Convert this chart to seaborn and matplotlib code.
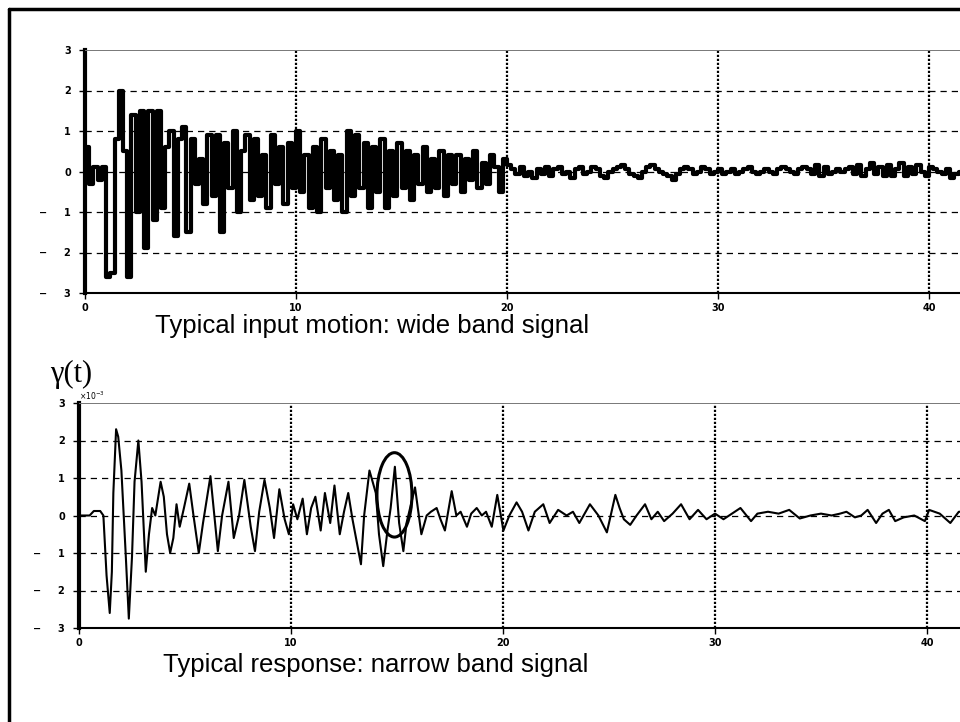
import numpy as np
import pandas as pd
import matplotlib
matplotlib.use("Agg")
import matplotlib.pyplot as plt
import seaborn as sns
from matplotlib.lines import Line2D
from matplotlib.patches import Ellipse

# input motion (wide band), sampled every 0.2 s
dt_input = 0.2
input_motion = [
    0.6, -0.3, 0.1, -0.2, 0.1, -2.6, -2.5, 0.8, 2.0, 0.5,
    -2.6, 1.4, -1.0, 1.5, -1.9, 1.5, -1.2, 1.5, -0.9, 0.6,
    1.0, -1.6, 0.8, 1.1, -1.5, 0.8, -0.3, 0.3, -0.8, 0.9,
    -0.6, 0.9, -1.5, 0.7, -0.4, 1.0, -1.0, 0.5, 0.9, -0.7,
    0.8, -0.6, 0.4, -0.9, 0.9, -0.3, 0.6, -0.8, 0.7, -0.4,
    1.0, -0.5, 0.4, -0.9, 0.6, -1.0, 0.8, -0.4, 0.5, -0.7,
    0.4, -1.0, 1.0, -0.6, 0.9, -0.4, 0.7, -0.9, 0.6, -0.5,
    0.8, -0.9, 0.5, -0.6, 0.7, -0.4, 0.5, -0.7, 0.4, -0.3,
    0.6, -0.5, 0.3, -0.4, 0.5, -0.6, 0.4, -0.3, 0.4, -0.5,
    0.3, -0.2, 0.5, -0.4, 0.2, -0.3, 0.4, 0.1, -0.5, 0.3,
    0.15, 0.05, -0.05, 0.1, -0.1, 0.0, -0.15, 0.05, -0.05, 0.1,
    -0.1, 0.05, 0.1, -0.05, 0.0, -0.15, 0.05, 0.1, -0.05, 0.0,
    0.1, 0.05, -0.1, -0.15, 0.0, 0.05, 0.1, 0.15, 0.05, -0.05,
    -0.1, -0.15, 0.0, 0.1, 0.15, 0.05, 0.0, -0.05, -0.1, -0.2,
    -0.05, 0.05, 0.1, 0.05, -0.05, 0.0, 0.1, 0.05, -0.05, 0.0,
    0.05, -0.05, 0.0, 0.05, -0.05, 0.0, 0.05, 0.1, 0.0, -0.05,
    0.0, 0.05, 0.0, -0.05, 0.05, 0.1, 0.05, 0.0, -0.05, 0.05,
    0.1, 0.05, -0.05, 0.15, -0.1, 0.1, -0.05, 0.0, 0.05, 0.0,
    0.05, 0.1, -0.05, 0.15, -0.1, 0.05, 0.2, -0.05, 0.1, -0.1,
    0.15, -0.1, 0.05, 0.2, -0.1, 0.1, -0.05, 0.15, 0.0, -0.1,
    0.1, 0.05, 0.0, -0.05, 0.05, -0.15, -0.05, 0.0, 0.05, -0.05,
]
t_input = np.arange(len(input_motion)) * dt_input

# response gamma(t), in units of 1e-3
t_resp = [
    0.0, 0.5, 0.7, 1.0, 1.15, 1.3, 1.45, 1.55, 1.62, 1.75, 1.85, 2.0, 2.2, 2.35,
    2.5, 2.62, 2.8, 2.95, 3.15, 3.3, 3.45, 3.6, 3.85, 4.0, 4.15, 4.3, 4.45, 4.6,
    4.75, 4.95, 5.2, 5.4, 5.65, 5.85, 6.2, 6.35, 6.55, 6.75, 7.05, 7.3, 7.55,
    7.8, 8.1, 8.3, 8.5, 8.75, 9.0, 9.2, 9.45, 9.7, 9.9, 10.1, 10.3, 10.55, 10.75,
    10.95, 11.15, 11.4, 11.6, 11.85, 12.05, 12.3, 12.5, 12.7, 12.9, 13.3, 13.45,
    13.7, 14.0, 14.15, 14.35, 14.55, 14.7, 14.9, 15.1, 15.3, 15.45, 15.85, 16.15,
    16.4, 16.6, 16.87, 17.05, 17.26, 17.58, 17.8, 18.0, 18.3, 18.5, 18.76, 19.0,
    19.2, 19.47, 19.73, 20.02, 20.3, 20.64, 20.9, 21.2, 21.5, 21.9, 22.2, 22.6,
    23.0, 23.3, 23.6, 24.1, 24.5, 24.9, 25.3, 25.5, 25.7, 26.0, 26.3, 26.7, 27.0,
    27.3, 27.6, 28.0, 28.4, 28.8, 29.2, 29.6, 30.0, 30.4, 30.8, 31.2, 31.7, 32.0,
    32.5, 33.0, 33.5, 34.0, 34.5, 35.0, 35.5, 35.9, 36.2, 36.6, 36.9, 37.2, 37.6,
    37.9, 38.2, 38.5, 38.9, 39.4, 39.9, 40.1, 40.6, 41.1, 41.5, 42.0,
]
response = [
    0.0, 0.0, 0.12, 0.12, 0.0, -1.6, -2.6, -1.5, 0.6, 2.3, 2.1, 1.2, -1.0, -2.75,
    -1.1, 0.9, 2.0, 0.9, -1.5, -0.5, 0.2, 0.0, 0.9, 0.5, -0.5, -1.0, -0.6, 0.3,
    -0.3, 0.2, 0.85, 0.0, -1.0, -0.2, 1.05, 0.2, -0.95, 0.0, 0.9, -0.6, 0.0,
    0.95, -0.3, -0.95, 0.1, 0.95, 0.2, -0.6, 0.7, -0.1, -0.5, 0.3, -0.1, 0.45, -0.5,
    0.2, 0.5, -0.4, 0.6, -0.2, 0.8, -0.5, 0.1, 0.6, -0.1, -1.3, 0.0,
    1.2, 0.6, -0.5, -1.35, -0.4, 0.2, 1.3, -0.2, -0.95, -0.2, 0.75, -0.5,
    0.0, 0.1, 0.2, -0.1, -0.4, 0.65, 0.0, 0.1, -0.3, 0.05, 0.2, 0.0,
    0.1, -0.3, 0.55, -0.4, 0.0, 0.35, 0.1, -0.4, 0.1, 0.3, -0.2, 0.15,
    0.0, 0.1, -0.2, 0.3, 0.0, -0.45, 0.55, 0.2, -0.1, -0.25, 0.0, 0.3, -0.1,
    0.1, -0.15, 0.05, 0.3, -0.1, 0.15, -0.1, 0.05, -0.1, 0.05, 0.2, -0.15, 0.05,
    0.1, 0.05, 0.15, -0.08, 0.0, 0.05, 0.0, 0.05, 0.1, -0.05, 0.0, 0.15, -0.2,
    0.05, 0.15, -0.15, -0.05, 0.0, -0.15, 0.15, 0.05, -0.2, 0.1, 0.1,
]

# circled peak in the response (centre t, centre value, width, height)
circle_t, circle_v, circle_w, circle_h = 14.88, 0.55, 1.65, 2.25

y_ticks = [-3, -2, -1, 0, 1, 2, 3]
y_ticklabels = ["\u2212     3", "\u2212     2", "\u2212     1", "0", "1", "2", "3"]
x_ticks = [0, 10, 20, 30, 40]
x_ticklabels = ["0", "10", "20", "30", "40"]

sns.set_style("white")
W, H = 960, 722
fig = plt.figure(figsize=(W / 100, H / 100), dpi=100)

ax1 = fig.add_axes([85 / W, 1 - 293 / H, 875 / W, 243 / H])
ax2 = fig.add_axes([79 / W, 1 - 628 / H, 881 / W, 225 / H])

df_in = pd.DataFrame({"t": t_input, "a": input_motion})
df_out = pd.DataFrame({"t": t_resp, "g": response})

sns.lineplot(data=df_in, x="t", y="a", ax=ax1, drawstyle="steps-post",
             color="black", lw=3.0, zorder=3)
sns.lineplot(data=df_out, x="t", y="g", ax=ax2, color="black", lw=1.5, zorder=3)

ax2.add_patch(Ellipse((circle_t, circle_v), circle_w, circle_h, fill=False,
                      edgecolor="black", lw=2.2, zorder=4))

for ax, xmax in [(ax1, 875 / 21.1), (ax2, 881 / 21.2)]:
    ax.set_xlim(0, xmax)
    ax.set_ylim(-3, 3)
    ax.set_xlabel("")
    ax.set_ylabel("")
    for yv in [-2, -1, 0, 1, 2]:
        ax.axhline(yv, color="black", lw=0.9, ls=(0, (5, 4)), zorder=1)
    for xv in [10, 20, 30, 40]:
        ax.axvline(xv, color="black", lw=1.6, ls=(0, (1, 0.8)), zorder=1)
    ax.set_yticks(y_ticks)
    ax.set_yticklabels(y_ticklabels)
    ax.set_xticks(x_ticks)
    ax.set_xticklabels(x_ticklabels)
    ax.tick_params(axis="both", left=True, bottom=True, length=4, width=1,
                   direction="out", labelsize=7, pad=3, colors="black")
    ax.tick_params(axis="y", pad=6)
    for lab in ax.get_xticklabels() + ax.get_yticklabels():
        lab.set_fontweight("bold")
    ax.spines["right"].set_visible(False)
    ax.spines["left"].set_linewidth(3)
    ax.spines["bottom"].set_linewidth(1.5)
    ax.spines["top"].set_linewidth(0.7)
    ax.spines["top"].set_color("#777777")
    for s in ["left", "bottom"]:
        ax.spines[s].set_color("black")

ax2.text(0.0, 1.004, r"$\times10^{-3}$", transform=ax2.transAxes, fontsize=5.5,
         ha="left", va="bottom", color="black")

fig.text(155 / W, 1 - 333 / H, "Typical input motion: wide band signal",
         fontsize=18.5, family="Liberation Sans", va="baseline", color="black")
fig.text(163 / W, 1 - 672 / H, "Typical response: narrow band signal",
         fontsize=18.5, family="Liberation Sans", va="baseline", color="black")
fig.text(50 / W, 1 - 382 / H, "\u03b3(t)", fontsize=22,
         family="Liberation Serif", va="baseline", color="black")

# outer frame (top and left edges visible in the scan)
fig.add_artist(Line2D([9 / W, 1.0], [1 - 9 / H, 1 - 9 / H], color="black", lw=2.5,
                      transform=fig.transFigure))
fig.add_artist(Line2D([9 / W, 9 / W], [1 - 9 / H, 0.0], color="black", lw=2.5,
                      transform=fig.transFigure))

fig.savefig("out.png", dpi=100)
